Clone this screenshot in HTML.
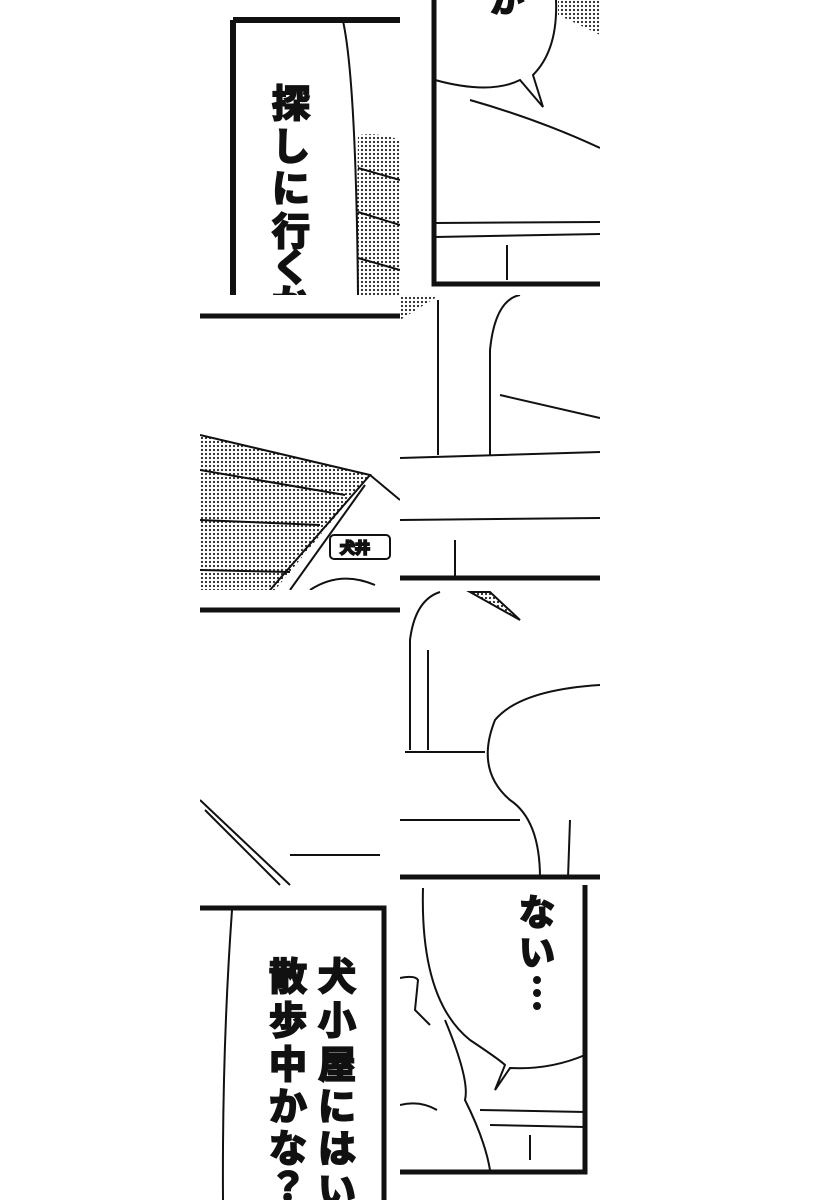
<!DOCTYPE html>
<html><head><meta charset="utf-8"><style>
html,body{margin:0;padding:0;background:#fff;}
svg{display:block}
.t{font-family:"Liberation Sans","Noto Sans CJK JP",sans-serif;font-weight:700;fill:#111;}
</style></head><body>
<svg width="820" height="1200" viewBox="0 0 820 1200" xmlns="http://www.w3.org/2000/svg">
<defs>
<pattern id="dots" width="4" height="4" patternUnits="userSpaceOnUse">
<rect width="4" height="4" fill="#fff"/><circle cx="2" cy="2" r="1.1" fill="#222"/></pattern>
<clipPath id="c1"><rect x="200" y="0" width="200" height="295"/></clipPath>
<clipPath id="c2"><rect x="400" y="0" width="200" height="290"/></clipPath>
<clipPath id="c3"><rect x="200" y="295" width="200" height="295"/></clipPath>
<clipPath id="c4"><rect x="400" y="295" width="200" height="290"/></clipPath>
<clipPath id="c5"><rect x="200" y="590" width="200" height="297"/></clipPath>
<clipPath id="c6"><rect x="400" y="585" width="200" height="295"/></clipPath>
<clipPath id="c7"><rect x="200" y="887" width="200" height="313"/></clipPath>
<clipPath id="c8"><rect x="400" y="880" width="200" height="300"/></clipPath>
</defs>
<g stroke="#111" fill="none" stroke-width="2">
<g clip-path="url(#c1)">
<path d="M358 135 Q380 132 400 140 L400 295 L356 295 Z" fill="url(#dots)" stroke="none"/>
<path d="M358 168 L400 180 M358 212 L400 225 M358 258 L400 270" />
<path d="M343 21 Q356 80 358 295" />
<path d="M233 20 L233 295 M233 20 L400 20" stroke-width="6"/>
</g>
<text class="t" font-size="38" x="291" y="117" text-anchor="middle">探</text>
<text class="t" font-size="38" x="291" y="160" text-anchor="middle">し</text>
<text class="t" font-size="38" x="291" y="202" text-anchor="middle">に</text>
<text class="t" font-size="38" x="291" y="245" text-anchor="middle">行</text>
<text class="t" font-size="38" x="291" y="281" text-anchor="middle">く</text>
<g clip-path="url(#c1)"><text class="t" font-size="38" x="291" y="317" text-anchor="middle">か</text></g>
<g clip-path="url(#c2)">
<path d="M558 0 L600 0 L600 35 Q580 25 558 15 Z" fill="url(#dots)" stroke="none"/>
<path d="M556 0 Q558 50 533 75 L543 107 L520 80 Q490 95 435 80" fill="#fff"/>
<path d="M470 100 Q540 120 600 148" />
<path d="M435 223 L600 222 M435 237 L600 234 M507 245 L507 280" />
<path d="M434 0 L434 284 L600 284" stroke-width="5"/>
</g>
<g clip-path="url(#c2)"><text class="t" font-size="34" x="490" y="12">か</text></g>
<g clip-path="url(#c3)">
<path d="M200 435 L370 475 L275 590 L200 590 Z" fill="url(#dots)" stroke="none"/>
<path d="M200 470 L345 495 M200 520 L320 525 M200 570 L290 572" />
<path d="M200 435 L370 475 L270 590 M370 475 L400 500 M365 485 L290 590" />
<path d="M310 590 Q340 570 375 585" />
<rect x="330" y="535" width="60" height="24" rx="4"/>
<path d="M200 316 L400 316" stroke-width="5"/>
</g>
<text class="t" font-size="15" x="340" y="553">犬井</text>
<g clip-path="url(#c4)">
<path d="M400 320 L440 295 L400 295Z" fill="url(#dots)" stroke="none"/>
<path d="M438 300 L438 455 M490 455 L490 350 Q495 300 520 295" />
<path d="M500 395 L600 418 M400 458 L600 452 M400 520 L600 518 M455 540 L455 578" />
<path d="M400 578 L600 578" stroke-width="5"/>
</g>
<g clip-path="url(#c5)">
<path d="M200 800 L290 885 M205 810 L280 885 M290 855 L380 855" />
<path d="M200 610 L400 610" stroke-width="5"/>
</g>
<g clip-path="url(#c6)">
<path d="M470 592 L520 620 L490 592Z" fill="url(#dots)"/>
<path d="M410 750 L410 640 Q415 600 440 592 M428 750 L428 650 M405 752 L485 752" />
<path d="M600 685 Q520 690 495 720 Q475 770 510 800 Q540 820 540 878 M570 820 L568 878" fill="#fff"/>
<path d="M400 820 L520 820" />
<path d="M400 877 L600 877" stroke-width="5"/>
</g>
<g clip-path="url(#c7)">
<path d="M232 910 Q222 1050 223 1200" />
<path d="M200 908 L384 908 L384 1200" stroke-width="5"/>
</g>
<g class="t" font-size="38" text-anchor="middle">
<text x="337" y="990">犬</text><text x="337" y="1034">小</text><text x="337" y="1078">屋</text><text x="337" y="1120">に</text><text x="337" y="1162">は</text>
<g clip-path="url(#c7)"><text x="337" y="1204">い</text></g>
<text x="288" y="990">散</text><text x="288" y="1034">歩</text><text x="288" y="1078">中</text><text x="288" y="1120">か</text><text x="288" y="1162">な</text>
<g clip-path="url(#c7)"><text x="288" y="1200">？</text></g>
</g>
<g clip-path="url(#c8)">
<path d="M423 888 Q420 1000 470 1040 Q500 1060 505 1065 L495 1090 L510 1068 Q550 1070 585 1055" fill="#fff"/>
<path d="M400 978 Q415 975 418 980 L415 1010 Q425 1020 430 1025 M400 1105 Q420 1100 437 1110" />
<path d="M445 1020 Q470 1080 465 1100 Q485 1140 490 1170" />
<path d="M480 1110 L585 1112 M490 1125 L585 1127 M530 1135 L530 1160" />
<path d="M585 885 L585 1172 L400 1172" stroke-width="5"/>
</g>
<g class="t" font-size="36" text-anchor="middle">
<text x="537" y="925">な</text><text x="537" y="965">い</text>
</g>
<g fill="#111"><circle cx="537" cy="980" r="3"/><circle cx="537" cy="993" r="3"/><circle cx="537" cy="1006" r="3"/></g>
</g>
</svg>
</body></html>
